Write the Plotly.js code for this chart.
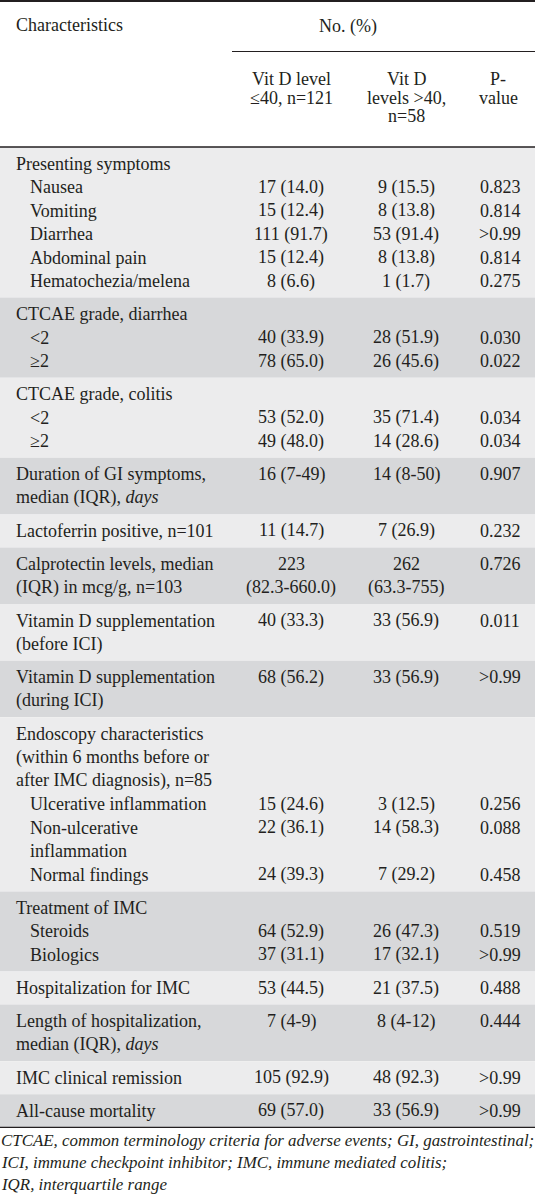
<!DOCTYPE html>
<html>
<head>
<meta charset="utf-8">
<script src="https://cdn.plot.ly/plotly-3.0.1.min.js"></script>
<style>
  html, body { margin: 0; padding: 0; background: #ffffff; }
  #chart { width: 535px; height: 1194px; }
</style>
</head>
<body>
<div id="chart"></div>
<script>
// ---------------- DATA ----------------
const headerTitle = "Characteristics";
const headerSpan = "No. (%)";
const columnHeaders = [
  ["Vit D level", "≤40, n=121"],
  ["Vit D", "levels >40,", "n=58"],
  ["P-", "value"]
];

const characteristics = [
  "Presenting symptoms", "Nausea", "Vomiting", "Diarrhea", "Abdominal pain", "Hematochezia/melena",
  "CTCAE grade, diarrhea", "<2", "≥2",
  "CTCAE grade, colitis", "<2", "≥2",
  "Duration of GI symptoms,<br>median (IQR), <i>days</i>",
  "Lactoferrin positive, n=101",
  "Calprotectin levels, median<br>(IQR) in mcg/g, n=103",
  "Vitamin D supplementation<br>(before ICI)",
  "Vitamin D supplementation<br>(during ICI)",
  "Endoscopy characteristics<br>(within 6 months before or<br>after IMC diagnosis), n=85",
  "Ulcerative inflammation", "Non-ulcerative<br>inflammation", "Normal findings",
  "Treatment of IMC", "Steroids", "Biologics",
  "Hospitalization for IMC",
  "Length of hospitalization,<br>median (IQR), <i>days</i>",
  "IMC clinical remission",
  "All-cause mortality"
];
const subItem = [0,1,1,1,1,1, 0,1,1, 0,1,1, 0, 0, 0, 0, 0, 0,1,1,1, 0,1,1, 0, 0, 0, 0];
const rowGroup = [0,0,0,0,0,0, 1,1,1, 2,2,2, 3, 4, 5, 6, 7, 8,8,8,8, 9,9,9, 10, 11, 12, 13];

const vitDLow = ["", "17 (14.0)", "15 (12.4)", "111 (91.7)", "15 (12.4)", "8 (6.6)",
  "", "40 (33.9)", "78 (65.0)",
  "", "53 (52.0)", "49 (48.0)",
  "16 (7-49)", "11 (14.7)", "223<br>(82.3-660.0)", "40 (33.3)", "68 (56.2)",
  "", "15 (24.6)", "22 (36.1)", "24 (39.3)",
  "", "64 (52.9)", "37 (31.1)",
  "53 (44.5)", "7 (4-9)", "105 (92.9)", "69 (57.0)"];
const vitDHigh = ["", "9 (15.5)", "8 (13.8)", "53 (91.4)", "8 (13.8)", "1 (1.7)",
  "", "28 (51.9)", "26 (45.6)",
  "", "35 (71.4)", "14 (28.6)",
  "14 (8-50)", "7 (26.9)", "262<br>(63.3-755)", "33 (56.9)", "33 (56.9)",
  "", "3 (12.5)", "14 (58.3)", "7 (29.2)",
  "", "26 (47.3)", "17 (32.1)",
  "21 (37.5)", "8 (4-12)", "48 (92.3)", "33 (56.9)"];
const pValues = ["", "0.823", "0.814", ">0.99", "0.814", "0.275",
  "", "0.030", "0.022",
  "", "0.034", "0.034",
  "0.907", "0.232", "0.726", "0.011", ">0.99",
  "", "0.256", "0.088", "0.458",
  "", "0.519", ">0.99",
  "0.488", "0.444", ">0.99", ">0.99"];

const footnoteLines = [
  "CTCAE, common terminology criteria for adverse events; GI, gastrointestinal;",
  "ICI, immune checkpoint inhibitor; IMC, immune mediated colitis;",
  "IQR, interquartile range"
];

// ---------------- STYLE / LAYOUT ----------------
const W = 535, H = 1194;
const FONT = "'Liberation Serif', 'Times New Roman', serif";
const TXT = "#231f20";
const FS = 18;
const LINE = 23.5;
const GPAD = 4.8;
const HEADER_BOTTOM = 147;
const colX = [291, 406, 500];
const labelX = [15, 29];
const fills = ["#ececed", "#d7d8da"];

const annotations = [];
const shapes = [];

function addText(txt, x, y, anchor, opts) {
  opts = opts || {};
  annotations.push({
    xref: "x", yref: "y", x: x, y: y,
    text: txt, showarrow: false,
    xanchor: anchor, yanchor: "middle",
    align: anchor === "left" ? "left" : "center",
    font: { family: FONT, size: opts.size || FS, color: TXT },
    borderpad: 0
  });
}

// header
addText(headerTitle, 15, 25, "left");
addText(headerSpan, 348, 26, "center");
columnHeaders.forEach((lines, c) => {
  lines.forEach((ln, k) => addText(ln, colX[c] + (c === 2 ? -2 : 0), 79 + k * 18.5, "center"));
});

// body
let y = HEADER_BOTTOM;
let g = -1, gStart = y;
const nRows = characteristics.length;
for (let i = 0; i < nRows; i++) {
  if (rowGroup[i] !== g) {
    if (g >= 0) {
      y += GPAD;
      shapes.push({ type: "rect", xref: "x", yref: "y", x0: 0, x1: W, y0: gStart, y1: y,
        fillcolor: fills[g % 2], line: { width: 0 }, layer: "below" });
    }
    g = rowGroup[i];
    gStart = y;
    y += GPAD;
  }
  const lab = characteristics[i].split("<br>");
  const c1 = vitDLow[i] ? vitDLow[i].split("<br>") : [];
  const c2 = vitDHigh[i] ? vitDHigh[i].split("<br>") : [];
  const c3 = pValues[i] ? pValues[i].split("<br>") : [];
  const n = Math.max(lab.length, c1.length, c2.length, c3.length);
  lab.forEach((t, k) => addText(t, labelX[subItem[i]], y + LINE * (k + 0.5), "left"));
  [c1, c2, c3].forEach((arr, c) => arr.forEach((t, k) => addText(t, colX[c], y + LINE * (k + 0.5), "center")));
  y += n * LINE;
}
y += GPAD;
shapes.push({ type: "rect", xref: "x", yref: "y", x0: 0, x1: W, y0: gStart, y1: y,
  fillcolor: fills[g % 2], line: { width: 0 }, layer: "below" });
const tableBottom = y;

// rules
shapes.push({ type: "line", xref: "x", yref: "y", x0: 0, x1: W, y0: 1, y1: 1, line: { color: TXT, width: 2 } });
shapes.push({ type: "line", xref: "x", yref: "y", x0: 232, x1: W, y0: 51.5, y1: 51.5, line: { color: TXT, width: 1 } });
shapes.push({ type: "line", xref: "x", yref: "y", x0: 0, x1: W, y0: HEADER_BOTTOM, y1: HEADER_BOTTOM, line: { color: TXT, width: 1.3 } });
shapes.push({ type: "line", xref: "x", yref: "y", x0: 0, x1: W, y0: tableBottom, y1: tableBottom, line: { color: TXT, width: 1.3 } });

// footnote
footnoteLines.forEach((t, k) => {
  annotations.push({
    xref: "x", yref: "y", x: 0, y: tableBottom + 13 + k * 22,
    text: "<i>" + t + "</i>", showarrow: false, xanchor: "left", yanchor: "middle", align: "left",
    font: { family: FONT, size: 16.9, color: TXT }, borderpad: 0
  });
});

const trace = { type: "scatter", mode: "markers", x: [], y: [], hoverinfo: "skip", showlegend: false };

const layout = {
  width: W, height: H,
  margin: { l: 0, r: 0, t: 0, b: 0, pad: 0 },
  paper_bgcolor: "#ffffff", plot_bgcolor: "#ffffff",
  xaxis: { range: [0, W], visible: false, fixedrange: true },
  yaxis: { range: [H, 0], visible: false, fixedrange: true },
  shapes: shapes,
  annotations: annotations,
  showlegend: false
};

Plotly.newPlot("chart", [trace], layout, { staticPlot: true, displayModeBar: false });
</script>
</body>
</html>
